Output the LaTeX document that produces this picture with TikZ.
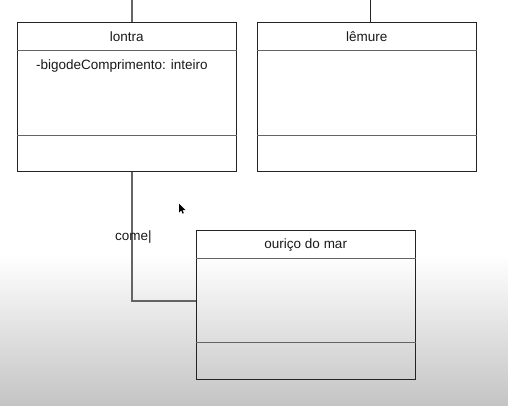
\documentclass[tikz,border=0pt]{standalone}
\usepackage{fontspec}
\setmainfont{Liberation Sans}
\usetikzlibrary{positioning}
\definecolor{umlline}{RGB}{35,35,35}
\definecolor{umlsep}{RGB}{100,100,100}
\definecolor{umltext}{RGB}{25,25,25}
\definecolor{screengray}{RGB}{196,196,196}

\tikzset{
  classbox/.style={draw=umlline, line width=1pt, minimum width=219pt, minimum height=149pt, inner sep=0pt},
  classname/.style={umltext, inner sep=0pt, font=\fontsize{13.5}{16}\selectfont},
  sepline/.style={umlsep, line width=1pt},
  assoc/.style={umlsep, line width=1.1pt}
}

\begin{document}
\begin{tikzpicture}[x=1pt, y=-1pt]
    % Screen background
    \useasboundingbox (0,0) rectangle (508,405);
    \fill[white] (0,0) rectangle (508,405);
    \shade[top color=white, bottom color=screengray] (0,255) rectangle (508,405);

    % Class lontra
    \node[classbox] (lontra) at (126.75,97) {};
    \node[classname] (lontraName) at (126.75,37) {lontra};
    \node[classname, anchor=west] (lontraAttr) at (36,66) {-bigodeComprimento: inteiro};
    \draw[sepline] ([yshift=-28.5pt]lontra.north west) -- ([yshift=-28.5pt]lontra.north east);
    \draw[sepline] ([yshift=37pt]lontra.south west) -- ([yshift=37pt]lontra.south east);

    % Class lemure
    \node[classbox] (lemure) at (366.75,97) {};
    \node[classname] (lemureName) at (366.75,37) {lêmure};
    \draw[sepline] ([yshift=-28.5pt]lemure.north west) -- ([yshift=-28.5pt]lemure.north east);
    \draw[sepline] ([yshift=37pt]lemure.south west) -- ([yshift=37pt]lemure.south east);

    % Class ourico do mar
    \node[classbox, minimum height=148.5pt] (ourico) at (305.75,305) {};
    \node[classname] (ouricoName) at (305.75,245) {ouriço do mar};
    \draw[sepline] ([yshift=-28pt]ourico.north west) -- ([yshift=-28pt]ourico.north east);
    \draw[sepline] ([yshift=37pt]ourico.south west) -- ([yshift=37pt]ourico.south east);

    % Lines leaving the top edge
    \coordinate (lontraUp) at (132,0);
    \coordinate (lemureUp) at (370.5,0);
    \draw[assoc] ([xshift=5.25pt]lontra.north) -- (lontraUp);
    \draw[umlline, line width=1.1pt] ([xshift=3.75pt]lemure.north) -- (lemureUp);

    % Association lontra -- ourico
    \draw[assoc] ([xshift=5.25pt]lontra.south) |- ([yshift=4pt]ourico.west);
    \node[classname, anchor=west] (comeLabel) at (115,237) {come|};

    % Mouse pointer
    \fill[black] (179,203.5) -- (179,212.5) -- (181.2,210.4) -- (182.6,213.6)
        -- (183.8,213.1) -- (182.5,210) -- (185.5,210) -- cycle;
\end{tikzpicture}
\end{document}
